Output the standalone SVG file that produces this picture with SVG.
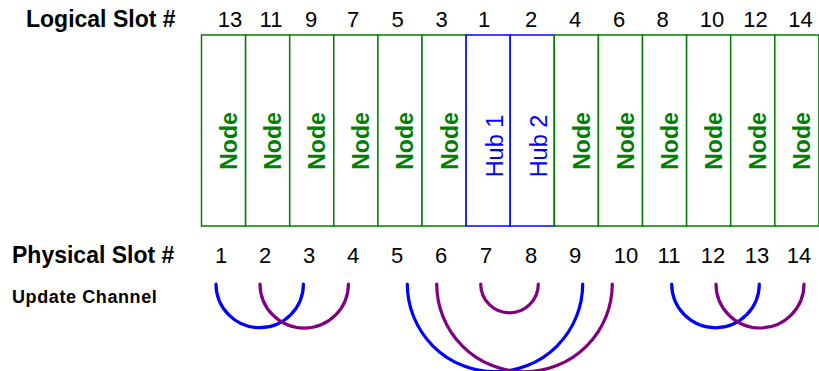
<svg xmlns="http://www.w3.org/2000/svg" width="819" height="371" viewBox="0 0 819 371">
<style>
.lbl{font-family:"Liberation Sans",Arial,sans-serif;font-weight:bold;font-size:23px;fill:#000}
.upd{font-family:"Liberation Sans",Arial,sans-serif;font-weight:bold;font-size:18px;letter-spacing:0.6px;fill:#000}
.num{font-family:"Liberation Sans",Arial,sans-serif;font-size:22px;fill:#000;text-anchor:middle}
.nbox{fill:#fff;stroke:#008000;stroke-width:1.5}
.hbox{fill:#fff;stroke:#0000ff;stroke-width:1.5}
.ntxt{font-family:"Liberation Sans",Arial,sans-serif;font-weight:bold;font-size:23px;fill:#008000;text-anchor:middle}
.htxt{font-family:"Liberation Sans",Arial,sans-serif;font-size:23.5px;fill:#0000ff;text-anchor:middle}
.ab{fill:none;stroke:#0000ff;stroke-width:3.2;stroke-linecap:round}
.ap{fill:none;stroke:#800080;stroke-width:3.2;stroke-linecap:round}
</style>
<rect width="819" height="371" fill="#fff"/>
<text class="lbl" x="26" y="27">Logical Slot #</text>
<g id="logical-numbers">
<text class="num" x="230" y="27">13</text>
<text class="num" x="271" y="27">11</text>
<text class="num" x="311" y="27">9</text>
<text class="num" x="353" y="27">7</text>
<text class="num" x="397.5" y="27">5</text>
<text class="num" x="441.5" y="27">3</text>
<text class="num" x="484" y="27">1</text>
<text class="num" x="531" y="27">2</text>
<text class="num" x="575" y="27">4</text>
<text class="num" x="619" y="27">6</text>
<text class="num" x="662.5" y="27">8</text>
<text class="num" x="712" y="27">10</text>
<text class="num" x="755.5" y="27">12</text>
<text class="num" x="800.5" y="27">14</text>
</g>
<g id="slot1"><rect class="nbox" x="201.5" y="35" width="44.1" height="191"/><text class="ntxt" transform="translate(237,141) rotate(-90)">Node</text></g>
<g id="slot2"><rect class="nbox" x="245.6" y="35" width="44.1" height="191"/><text class="ntxt" transform="translate(281.1,141) rotate(-90)">Node</text></g>
<g id="slot3"><rect class="nbox" x="289.7" y="35" width="44.1" height="191"/><text class="ntxt" transform="translate(325.2,141) rotate(-90)">Node</text></g>
<g id="slot4"><rect class="nbox" x="333.8" y="35" width="44.1" height="191"/><text class="ntxt" transform="translate(369.3,141) rotate(-90)">Node</text></g>
<g id="slot5"><rect class="nbox" x="377.9" y="35" width="44.1" height="191"/><text class="ntxt" transform="translate(413.4,141) rotate(-90)">Node</text></g>
<g id="slot6"><rect class="nbox" x="422" y="35" width="44.1" height="191"/><text class="ntxt" transform="translate(457.5,141) rotate(-90)">Node</text></g>
<g id="slot7"><rect class="hbox" x="466.1" y="35" width="44.1" height="191"/><text class="htxt" transform="translate(502.7,146) rotate(-90)">Hub 1</text></g>
<g id="slot8"><rect class="hbox" x="510.2" y="35" width="44.1" height="191"/><text class="htxt" transform="translate(546.8,146) rotate(-90)">Hub 2</text></g>
<g id="slot9"><rect class="nbox" x="554.3" y="35" width="44.1" height="191"/><text class="ntxt" transform="translate(589.9,141) rotate(-90)">Node</text></g>
<g id="slot10"><rect class="nbox" x="598.4" y="35" width="44.1" height="191"/><text class="ntxt" transform="translate(634,141) rotate(-90)">Node</text></g>
<g id="slot11"><rect class="nbox" x="642.5" y="35" width="44.1" height="191"/><text class="ntxt" transform="translate(678.1,141) rotate(-90)">Node</text></g>
<g id="slot12"><rect class="nbox" x="686.6" y="35" width="44.1" height="191"/><text class="ntxt" transform="translate(722.2,141) rotate(-90)">Node</text></g>
<g id="slot13"><rect class="nbox" x="730.7" y="35" width="44.1" height="191"/><text class="ntxt" transform="translate(766.3,141) rotate(-90)">Node</text></g>
<g id="slot14"><rect class="nbox" x="774.8" y="35" width="44.1" height="191"/><text class="ntxt" transform="translate(810.4,141) rotate(-90)">Node</text></g>
<text class="lbl" x="12" y="263">Physical Slot #</text>
<g id="physical-numbers">
<text class="num" x="221" y="263">1</text>
<text class="num" x="265" y="263">2</text>
<text class="num" x="309" y="263">3</text>
<text class="num" x="353" y="263">4</text>
<text class="num" x="397" y="263">5</text>
<text class="num" x="441" y="263">6</text>
<text class="num" x="486" y="263">7</text>
<text class="num" x="531" y="263">8</text>
<text class="num" x="575" y="263">9</text>
<text class="num" x="626" y="263">10</text>
<text class="num" x="669" y="263">11</text>
<text class="num" x="713" y="263">12</text>
<text class="num" x="757" y="263">13</text>
<text class="num" x="799" y="263">14</text>
</g>
<text class="upd" x="12" y="303">Update Channel</text>
<g id="connectors">
<path class="ab" d="M216,284 A43.7,43.7 0 0 0 303.4,284"/>
<path class="ap" d="M260,284 A44.2,44.2 0 0 0 348.4,284"/>
<path class="ab" d="M407.3,284 A87.7,87.7 0 0 0 582.7,284"/>
<path class="ap" d="M436.7,284 A87.8,87.8 0 0 0 612.3,284"/>
<path class="ap" d="M480.7,284 A28.8,28.8 0 0 0 538.3,284"/>
<path class="ab" d="M671.7,284 A43.8,43.8 0 0 0 759.3,284"/>
<path class="ap" d="M716,284 A44,44 0 0 0 804,284"/>
</g>
</svg>
